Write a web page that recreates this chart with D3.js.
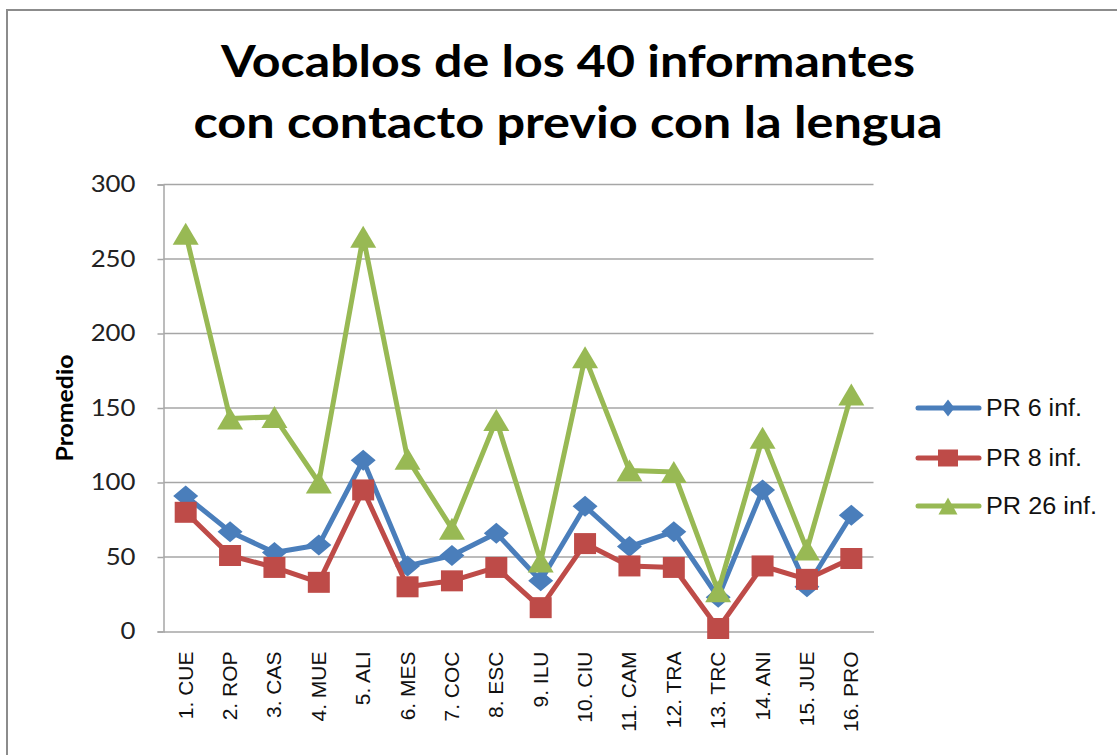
<!DOCTYPE html>
<html>
<head>
<meta charset="utf-8">
<script src="https://cdn.jsdelivr.net/npm/d3@7"></script>
<style>
  html, body { margin: 0; padding: 0; background: #fff; }
  svg { display: block; }
</style>
</head>
<body>
<svg id="chart" width="1117" height="755"></svg>
<script>
const titleLines = ["Vocablos de los 40 informantes", "con contacto previo con la lengua"];
const categories = ["1. CUE","2. ROP","3. CAS","4. MUE","5. ALI","6. MES","7. COC","8. ESC","9. ILU","10. CIU","11. CAM","12. TRA","13. TRC","14. ANI","15. JUE","16. PRO"];
const seriesNames = ["PR 6 inf.", "PR 8 inf.", "PR 26 inf."];
const pr6  = [91, 67, 53, 58, 115, 44, 51, 66, 34, 84, 57, 67, 23, 95, 30, 78];
const pr8  = [80, 51, 43, 33, 95, 30, 34, 43, 16, 59, 44, 43, 2, 44, 35, 49];
const pr26 = [267, 143, 144, 100, 265, 116, 69, 142, 47, 184, 108, 107, 27, 130, 55, 159];
const yTicks = [0, 50, 100, 150, 200, 250, 300];
const yLabel = "Promedio";

const colors = ["#4A7EBB", "#BE4B48", "#98B954"];
const seriesData = [pr6, pr8, pr26];
const shapes = ["diamond", "square", "triangle"];

const svg = d3.select("#chart");
const W = 1117, H = 755;

// horizontal stretch of text relative to the installed fonts
function stretch(sel, k) {
  sel.each(function () {
    const len = this.getComputedTextLength();
    d3.select(this).attr("textLength", len * k).attr("lengthAdjust", "spacingAndGlyphs");
  });
}

// outer border
svg.append("rect").attr("x", 7).attr("y", 10).attr("width", W + 10).attr("height", H + 10)
  .attr("fill", "#fff").attr("stroke", "#8c8c8c").attr("stroke-width", 2);

const m = { left: 163.5, top: 184.5, right: 873.5, bottom: 631.5 };

const x = d3.scaleBand().domain(categories).range([m.left, m.right]);
const y = d3.scaleLinear().domain([0, 300]).range([m.bottom, m.top]);

// title
const titleWidths = [694, 749];
svg.append("g").selectAll("text").data(titleLines).join("text")
  .attr("x", 568).attr("y", (d, i) => 77 + i * 61)
  .attr("text-anchor", "middle")
  .attr("font-family", "Lato, 'Open Sans', sans-serif")
  .attr("font-weight", "bold").attr("font-size", 44).attr("fill", "#000")
  .attr("textLength", (d, i) => titleWidths[i]).attr("lengthAdjust", "spacingAndGlyphs")
  .text(d => d);

// gridlines
svg.append("g").selectAll("line").data(yTicks.filter(t => t > 0)).join("line")
  .attr("x1", m.left).attr("x2", m.right)
  .attr("y1", d => y(d)).attr("y2", d => y(d))
  .attr("stroke", "#a6a6a6").attr("stroke-width", 1.5);

// y axis
const yAxis = d3.axisLeft(y).tickValues(yTicks).tickSize(6).tickPadding(22).tickFormat(d3.format("d"));
const gy = svg.append("g").attr("transform", `translate(${m.left},0)`).call(yAxis);
gy.select(".domain").attr("stroke", "#a6a6a6").attr("stroke-width", 1.5);
gy.selectAll(".tick line").attr("stroke", "#a6a6a6").attr("stroke-width", 1.5);
gy.selectAll(".tick text").attr("font-family", "Lato, sans-serif").attr("font-size", 23).attr("fill", "#222")
  .call(stretch, 1.12);

// x axis
const xAxis = d3.axisBottom(x).tickSize(0).tickPadding(0);
const gx = svg.append("g").attr("transform", `translate(0,${m.bottom})`).call(xAxis);
gx.select(".domain").attr("stroke", "#a6a6a6").attr("stroke-width", 1.5);
gx.selectAll(".tick text")
  .attr("font-family", "'Liberation Sans', Arial, sans-serif").attr("font-size", 21).attr("fill", "#111")
  .attr("text-anchor", "end")
  .attr("transform", "translate(7,20) rotate(-90)")
  .attr("dy", 0).attr("x", 0).attr("y", 0);

// y label
svg.append("text").attr("transform", "translate(73,408) rotate(-90)")
  .attr("text-anchor", "middle").attr("font-family", "Lato, sans-serif")
  .attr("font-weight", "bold").attr("font-size", 22).attr("fill", "#000")
  .attr("textLength", 107).attr("lengthAdjust", "spacingAndGlyphs")
  .text(yLabel);

function markerPath(shape, w, h) {
  const a = w / 2, b = h / 2;
  if (shape === "diamond") return `M0,${-b}L${a},0L0,${b}L${-a},0Z`;
  if (shape === "square") return `M${-a},${-b}H${a}V${b}H${-a}Z`;
  return `M0,${-b}L${a},${b}L${-a},${b}Z`;
}
const markerSize = { diamond: [25, 21], square: [22, 21], triangle: [26, 22] };

const cx = d => x(d) + x.bandwidth() / 2;
const line = d3.line().x((d, i) => cx(categories[i])).y(d => y(d));

seriesData.forEach((vals, s) => {
  const g = svg.append("g");
  g.append("path").datum(vals).attr("d", line)
    .attr("fill", "none").attr("stroke", colors[s]).attr("stroke-width", 5)
    .attr("stroke-linejoin", "round").attr("stroke-linecap", "round");
  const [w, h] = markerSize[shapes[s]];
  g.selectAll("path.mk").data(vals).join("path").attr("class", "mk")
    .attr("transform", (d, i) => `translate(${cx(categories[i])},${y(d)})`)
    .attr("d", markerPath(shapes[s], w, h))
    .attr("fill", colors[s]);
});

// legend
const legY = [408, 458, 506];
const legW = [96, 96, 111];
const lg = svg.append("g");
seriesNames.forEach((name, i) => {
  const gg = lg.append("g").attr("transform", `translate(0,${legY[i]})`);
  gg.append("line").attr("x1", 918).attr("x2", 979).attr("y1", 0).attr("y2", 0)
    .attr("stroke", colors[i]).attr("stroke-width", 5).attr("stroke-linecap", "round");
  const lsize = { diamond: [13, 17], square: [20, 17], triangle: [19, 17] }[shapes[i]];
  gg.append("path").attr("transform", "translate(948,0)")
    .attr("d", markerPath(shapes[i], lsize[0], lsize[1])).attr("fill", colors[i]);
  gg.append("text").attr("x", 986).attr("y", 0).attr("dy", "0.35em")
    .attr("font-family", "'Liberation Sans', Arial, sans-serif").attr("font-size", 23).attr("fill", "#111")
    .attr("textLength", legW[i]).attr("lengthAdjust", "spacingAndGlyphs")
    .text(name);
});
</script>
</body>
</html>
